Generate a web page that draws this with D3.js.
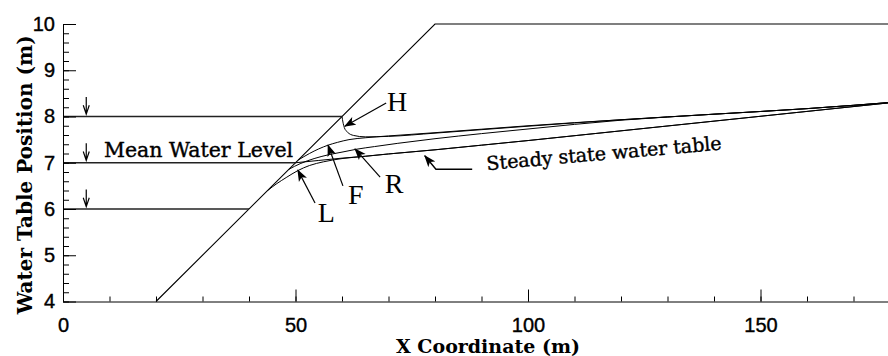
<!DOCTYPE html>
<html>
<head>
    <meta charset="UTF-8">
    <title>Water Table Position</title>
    <script src="https://d3js.org/d3.v7.min.js"></script>
    <style>
      body { margin: 0; background: #fff; }
    </style>
</head>
<body>
    <svg id="chart"></svg>

    <script>

    // ---- data (metres) ----
    const xMajor = [0, 50, 100, 150];
    const yMajor = [4, 5, 6, 7, 8, 9, 10];

    const seaLevels = [6, 7, 8];           // still water levels
    const levelEnds = [40, 50, 60];        // where each level meets the beach slope

    const beach = [[20, 4], [80, 10], [180, 10]];

    const steady = [[50, 7.0], [55, 7.05], [60, 7.1], [65, 7.14], [70, 7.19], [80, 7.28], [90, 7.38],
                    [100, 7.48], [120, 7.69], [140, 7.9], [160, 8.11], [180, 8.32]];
    const curveL = [[44, 6.4], [46, 6.55], [48, 6.68], [50.5, 6.83], [53, 6.94], [56, 7.02], [60, 7.09],
                    [65, 7.14], [70, 7.19], [80, 7.28], [90, 7.38], [100, 7.48], [120, 7.69], [140, 7.9],
                    [160, 8.11], [180, 8.32]];
    const curveR = [[48.6, 6.86], [51, 6.98], [54, 7.09], [57, 7.17], [60, 7.23], [63, 7.29], [67, 7.35],
                    [72, 7.42], [80, 7.52], [90, 7.63], [100, 7.73], [120, 7.92], [140, 8.05], [160, 8.17],
                    [180, 8.32]];
    const curveF = [[50.6, 7.06], [53, 7.2], [55, 7.3], [57, 7.38], [59, 7.44], [61.5, 7.5], [65, 7.54],
                    [70, 7.58], [80, 7.65], [100, 7.8], [120, 7.93], [140, 8.05], [160, 8.17], [180, 8.32]];
    const curveH = [[60, 8.0], [60.2, 7.88], [60.5, 7.76], [61.2, 7.66], [62.5, 7.59], [65, 7.56], [70, 7.57],
                    [80, 7.64], [100, 7.79], [120, 7.93], [140, 8.05], [160, 8.17], [180, 8.32]];

    // labels: [text, label x, label y, arrow tail x, tail y, tip x, tip y]
    const pointers = [
      ["L", 54.8, 5.72, 54.2, 6.13, 50.5, 6.84],
      ["F", 61.3, 6.11, 60.2, 6.5, 57.0, 7.38],
      ["R", 69.2, 6.35, 68.2, 6.69, 62.8, 7.3],
      ["H", 69.7, 8.12, 69.5, 8.29, 60.6, 7.79]
    ];

    const width = 888;
    const height = 356;

    const svg = d3.select("#chart")
      .attr("width", width)
      .attr("height", height);

    const x = d3.scaleLinear().domain([0, 180]).range([63, 900]);
    const y = d3.scaleLinear().domain([4, 10]).range([301.5, 24]);

    svg.append("defs").append("marker")
      .attr("id", "head")
      .attr("viewBox", "0 -5 12 10")
      .attr("refX", 11).attr("refY", 0)
      .attr("markerWidth", 12).attr("markerHeight", 10)
      .attr("markerUnits", "userSpaceOnUse")
      .attr("orient", "auto")
      .append("path")
      .attr("d", "M0,-4.5L12,0L0,4.5L3,0Z")
      .attr("fill", "#000");

    const line = d3.line().x(d => x(d[0])).y(d => y(d[1]));
    const smooth = d3.line().x(d => x(d[0])).y(d => y(d[1])).curve(d3.curveMonotoneX);

    // beach profile
    svg.append("path")
      .attr("d", line(beach))
      .attr("fill", "none").attr("stroke", "#000").attr("stroke-width", 1.1);

    // water levels + down arrows
    seaLevels.forEach((lv, i) => {
      svg.append("path")
        .attr("d", line([[0, lv], [levelEnds[i], lv]]))
        .attr("fill", "none").attr("stroke", "#222").attr("stroke-width", 1.6);
      const ax = x(5), top = y(lv + 0.42), tip = y(lv + 0.05);
      svg.append("path")
        .attr("d", `M${ax},${top}L${ax},${tip}M${ax - 3},${tip - 9}L${ax},${tip}L${ax + 3},${tip - 9}`)
        .attr("fill", "none").attr("stroke", "#000").attr("stroke-width", 1.2);
    });

    // water table curves
    [steady, curveL, curveR, curveF, curveH].forEach(c => {
      svg.append("path")
        .attr("d", smooth(c))
        .attr("fill", "none").attr("stroke", "#000").attr("stroke-width", 1);
    });

    // axes
    svg.append("g")
      .attr("transform", `translate(${x(0)},0)`)
      .call(d3.axisLeft(y).tickValues(yMajor).tickFormat(d3.format("d"))
        .tickSize(-13).tickSizeOuter(0).tickPadding(8));
    svg.append("g")
      .attr("transform", `translate(${x(0)},0)`)
      .call(d3.axisLeft(y).tickValues(d3.range(4, 10.01, 0.2)).tickSize(-6).tickSizeOuter(0).tickFormat(""))
      .select(".domain").remove();

    svg.append("g")
      .attr("transform", `translate(0,${y(4)})`)
      .call(d3.axisBottom(x).tickValues(xMajor).tickFormat(d3.format("d"))
        .tickSize(-12).tickSizeOuter(0).tickPadding(16));
    svg.append("g")
      .attr("transform", `translate(0,${y(4)})`)
      .call(d3.axisBottom(x).tickValues(d3.range(10, 171, 10)).tickSize(-5).tickSizeOuter(0).tickFormat(""))
      .select(".domain").remove();

    svg.selectAll(".tick text")
      .attr("font-family", "Liberation Sans, Arial, sans-serif")
      .attr("font-size", "20px")
      .attr("fill", "#000")
      .attr("stroke", "#000").attr("stroke-width", 0.4);
    svg.selectAll(".domain, .tick line").attr("stroke", "#000");

    // axis titles
    svg.append("text")
      .attr("x", 488).attr("y", 353)
      .attr("text-anchor", "middle")
      .attr("font-family", "DejaVu Serif, serif")
      .attr("font-weight", "bold")
      .attr("font-size", "19px")
      .text("X Coordinate (m)");

    svg.append("text")
      .attr("transform", `translate(32, ${y(7) + 12})rotate(-90)`)
      .attr("text-anchor", "middle")
      .attr("font-family", "DejaVu Serif, serif")
      .attr("font-weight", "bold")
      .attr("font-size", "20px")
      .text("Water Table Position (m)");

    // annotations
    svg.append("text")
      .attr("x", x(8.8)).attr("y", y(7.12))
      .attr("font-family", "DejaVu Serif, serif")
      .attr("font-size", "20.5px")
      .attr("stroke", "#000").attr("stroke-width", 0.4)
      .text("Mean Water Level");

    pointers.forEach(p => {
      svg.append("text")
        .attr("x", x(p[1])).attr("y", y(p[2]))
        .attr("font-family", "Liberation Serif, Times New Roman, serif")
        .attr("font-size", "28px")
        .text(p[0]);
      svg.append("line")
        .attr("x1", x(p[3])).attr("y1", y(p[4]))
        .attr("x2", x(p[5])).attr("y2", y(p[6]))
        .attr("stroke", "#000").attr("stroke-width", 1.2)
        .attr("marker-end", "url(#head)");
    });

    // steady state pointer
    svg.append("path")
      .attr("d", line([[88, 6.86], [80.2, 6.86], [77.8, 7.15]]))
      .attr("fill", "none").attr("stroke", "#000").attr("stroke-width", 1.4)
      .attr("marker-end", "url(#head)");

    svg.append("text")
      .attr("transform", `translate(${x(91.2)},${y(6.84)})rotate(-5)`)
      .attr("font-family", "DejaVu Serif, serif")
      .attr("font-size", "19px")
      .attr("stroke", "#000").attr("stroke-width", 0.4)
      .text("Steady state water table");

    </script>
</body>
</html>
